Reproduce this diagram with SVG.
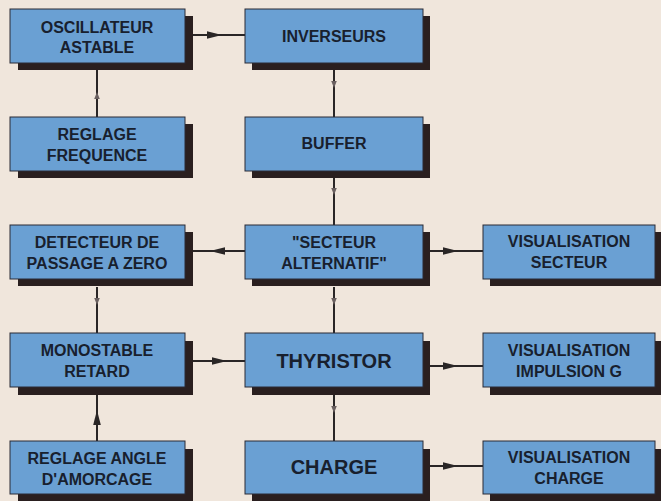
<svg xmlns="http://www.w3.org/2000/svg" width="661" height="501" viewBox="0 0 661 501">
<defs>
<style>
.sh{fill:#2a1f1f}
.face{fill:#6aa0d3;stroke:#2a2a35;stroke-width:1}
.t{font-family:"Liberation Sans",Arial,sans-serif;font-weight:bold;font-size:16px;fill:#18202e;text-anchor:middle;letter-spacing:0}
.tb{font-size:20px}
.c{fill:none;stroke:#2a2626;stroke-width:2}
</style>
<marker id="ah" markerUnits="userSpaceOnUse" markerWidth="16" markerHeight="10" viewBox="-15 -5 16 10" refX="0" refY="0" orient="auto">
<path d="M0,0 L-15,-3.8 L-15,3.8 z" fill="#2a2626"/>
</marker>
<marker id="as" markerUnits="userSpaceOnUse" markerWidth="8" markerHeight="8" viewBox="-7 -4 8 8" refX="0" refY="0" orient="auto">
<path d="M0,0 L-7,-2.8 L-7,2.8 z" fill="#6a6060"/>
</marker>
</defs>
<rect width="661" height="501" fill="#f0e6dc"/>
<g id="connectors">
<path class="c" d="M193,35 L222,35 L245,35" marker-mid="url(#ah)"/>
<path class="c" d="M97,117 L97,92 L97,70" marker-mid="url(#as)"/>
<path class="c" d="M334,70 L334,88 L334,117" marker-mid="url(#as)"/>
<path class="c" d="M334,178 L334,195 L334,225" marker-mid="url(#as)"/>
<path class="c" d="M245,251 L210,251 L193,251" marker-mid="url(#ah)"/>
<path class="c" d="M430,251 L458,251 L483,251" marker-mid="url(#ah)"/>
<path class="c" d="M97,287 L97,305 L97,333" marker-mid="url(#as)"/>
<path class="c" d="M334,287 L334,305 L334,333" marker-mid="url(#as)"/>
<path class="c" d="M193,361 L227,361 L245,361" marker-mid="url(#ah)"/>
<path class="c" d="M430,366 L458,366 L483,366" marker-mid="url(#ah)"/>
<path class="c" d="M334,395 L334,413 L334,441" marker-mid="url(#as)"/>
<path class="c" d="M97,441 L97,410 L97,395" marker-mid="url(#ah)"/>
<path class="c" d="M430,466 L458,466 L483,466" marker-mid="url(#ah)"/>
</g>
<g id="oscillateur">
<rect class="sh" x="18" y="16" width="175" height="54"/>
<rect class="face" x="10" y="9" width="175" height="54"/>
<text class="t" x="97" y="33">OSCILLATEUR</text>
<text class="t" x="97" y="53">ASTABLE</text>
</g>
<g id="inverseurs">
<rect class="sh" x="252" y="16" width="178" height="54"/>
<rect class="face" x="245" y="9" width="178" height="54"/>
<text class="t" x="334" y="42">INVERSEURS</text>
</g>
<g id="reglage-frequence">
<rect class="sh" x="18" y="124" width="175" height="54"/>
<rect class="face" x="10" y="117" width="175" height="54"/>
<text class="t" x="97" y="140">REGLAGE</text>
<text class="t" x="97" y="161">FREQUENCE</text>
</g>
<g id="buffer">
<rect class="sh" x="252" y="124" width="178" height="54"/>
<rect class="face" x="245" y="117" width="178" height="54"/>
<text class="t" x="334" y="149">BUFFER</text>
</g>
<g id="detecteur">
<rect class="sh" x="18" y="232" width="175" height="54"/>
<rect class="face" x="10" y="225" width="175" height="54"/>
<text class="t" x="97" y="248">DETECTEUR DE</text>
<text class="t" x="97" y="269">PASSAGE A ZERO</text>
</g>
<g id="secteur">
<rect class="sh" x="252" y="232" width="178" height="54"/>
<rect class="face" x="245" y="225" width="178" height="54"/>
<text class="t" x="334" y="248">"SECTEUR</text>
<text class="t" x="334" y="269">ALTERNATIF"</text>
</g>
<g id="visu-secteur">
<rect class="sh" x="490" y="232" width="172" height="54"/>
<rect class="face" x="483" y="225" width="172" height="54"/>
<text class="t" x="569" y="247">VISUALISATION</text>
<text class="t" x="569" y="268">SECTEUR</text>
</g>
<g id="monostable">
<rect class="sh" x="18" y="341" width="175" height="54"/>
<rect class="face" x="10" y="333" width="175" height="54"/>
<text class="t" x="97" y="356">MONOSTABLE</text>
<text class="t" x="97" y="377">RETARD</text>
</g>
<g id="thyristor">
<rect class="sh" x="252" y="341" width="178" height="54"/>
<rect class="face" x="245" y="333" width="178" height="54"/>
<text class="t tb" x="334" y="368">THYRISTOR</text>
</g>
<g id="visu-impulsion">
<rect class="sh" x="490" y="341" width="172" height="54"/>
<rect class="face" x="483" y="333" width="172" height="54"/>
<text class="t" x="569" y="356">VISUALISATION</text>
<text class="t" x="569" y="377">IMPULSION G</text>
</g>
<g id="reglage-angle">
<rect class="sh" x="18" y="449" width="175" height="54"/>
<rect class="face" x="10" y="441" width="175" height="53"/>
<text class="t" x="97" y="464">REGLAGE ANGLE</text>
<text class="t" x="97" y="485">D'AMORCAGE</text>
</g>
<g id="charge">
<rect class="sh" x="252" y="449" width="178" height="54"/>
<rect class="face" x="245" y="441" width="178" height="53"/>
<text class="t tb" x="334" y="474">CHARGE</text>
</g>
<g id="visu-charge">
<rect class="sh" x="490" y="449" width="172" height="54"/>
<rect class="face" x="483" y="441" width="172" height="53"/>
<text class="t" x="569" y="463">VISUALISATION</text>
<text class="t" x="569" y="484">CHARGE</text>
</g>
</svg>
